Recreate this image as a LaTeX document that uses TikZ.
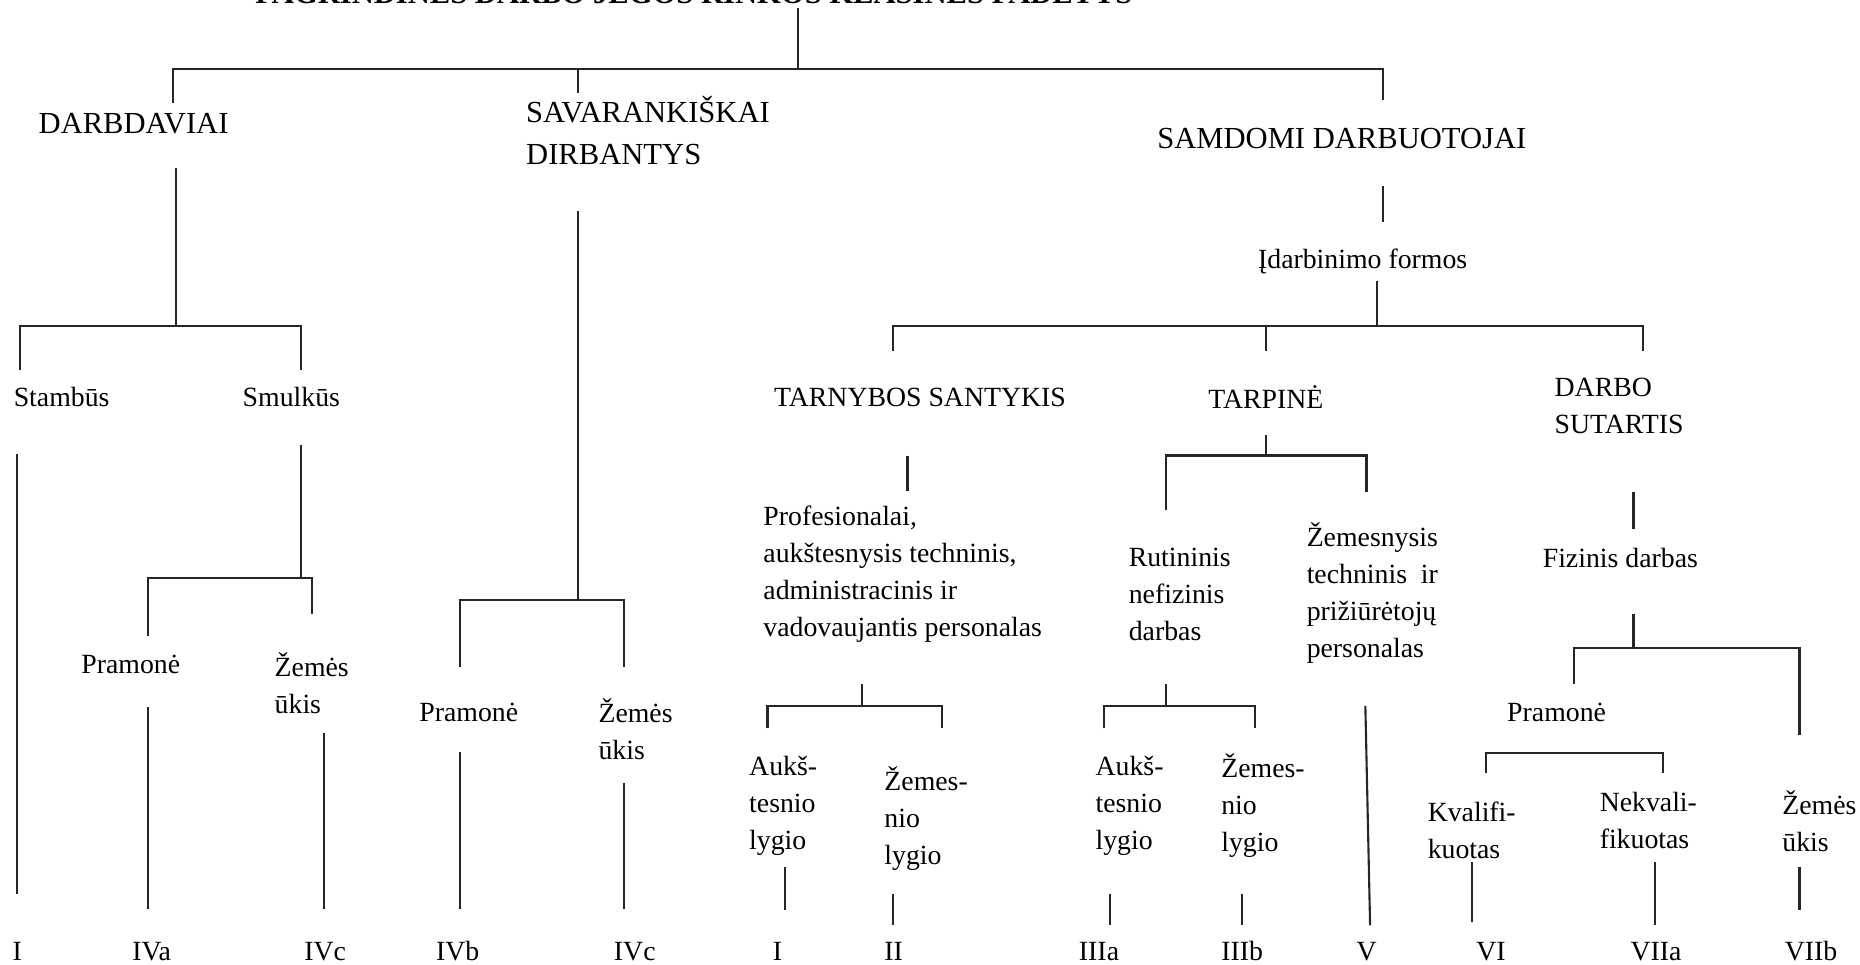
\documentclass[tikz,border=0pt]{standalone}
\usepackage{fontspec}
\setmainfont{Liberation Serif}
\newcommand{\hdfont}{\fontsize{8.7}{11.8}\selectfont}
\newcommand{\lbfont}{\fontsize{7.9}{10.5}\selectfont}
\tikzset{
  lbl/.style={inner sep=0pt, anchor=west, align=left, font=\lbfont},
  hd/.style={lbl, font=\hdfont},
  conn/.style={line width=0.6pt, draw=black!85}
}
\begin{document}
\begin{tikzpicture}[x=0.011862cm, y=-0.011862cm]
    \useasboundingbox (0,0) rectangle (1568,813);

    % title (cut at the top edge)
    \node[hd, anchor=base, font=\hdfont\bfseries] (title) at (585,3) {PAGRINDINĖS DARBO JĖGOS RINKOS KLASINĖS PADĖTYS};

    % main groups
    \node[hd] (darb) at (32,104) {DARBDAVIAI};
    \node[hd] (sav) at (443,110) {SAVARANKIŠKAI\\DIRBANTYS};
    \node[hd] (samd) at (975,117) {SAMDOMI DARBUOTOJAI};
    \node[lbl] (idarb) at (1060,220) {Įdarbinimo formos};

    \node[lbl] (stamb) at (11,335) {Stambūs};
    \node[lbl] (smulk) at (204,335) {Smulkūs};
    \node[lbl] (tarn) at (652,335) {TARNYBOS SANTYKIS};
    \node[lbl] (tarp) at (1018,335) {TARPINĖ};
    \node[lbl] (sut) at (1310,342) {DARBO\\SUTARTIS};

    \node[lbl] (pram1) at (68,560) {Pramonė};
    \node[lbl] (zem1) at (231,576) {Žemės\\ūkis};
    \node[lbl] (pram2) at (353,601) {Pramonė};
    \node[lbl] (zem2) at (504,615) {Žemės\\ūkis};

    \node[lbl] (prof) at (643,484) {Profesionalai,\\aukštesnysis techninis,\\administracinis ir\\vadovaujantis personalas};
    \node[lbl] (auk1) at (631,679) {Aukš-\\tesnio\\lygio};
    \node[lbl] (zemes1) at (745,690) {Žemes-\\nio\\lygio};

    \node[lbl] (rut) at (951,501) {Rutininis\\nefizinis\\darbas};
    \node[lbl] (zemsn) at (1101,500) {Žemesnysis\\techninis~~ir\\prižiūrėtojų\\personalas};
    \node[lbl] (auk2) at (923,679) {Aukš-\\tesnio\\lygio};
    \node[lbl] (zemes2) at (1029,679) {Žemes-\\nio\\lygio};

    \node[lbl] (fiz) at (1300,470) {Fizinis darbas};
    \node[lbl] (pram3) at (1270,601) {Pramonė};
    \node[lbl] (zem3) at (1502,692) {Žemės\\ūkis};
    \node[lbl] (kval) at (1203,700) {Kvalifi-\\kuotas};
    \node[lbl] (nekv) at (1348,692) {Nekvali-\\fikuotas};

    % class numbers
    \foreach \n/\x/\t in {cI/10/I, cIVa/111/IVa, cIVc/256/IVc, cIVb/367/IVb, cIVcc/517/IVc,
        cIb/651/I, cII/745/II, cIIIa/909/IIIa, cIIIb/1029/IIIb, cV/1143/V,
        cVI/1244/VI, cVIIa/1374/VIIa, cVIIb/1504/VIIb}
        \node[lbl] (\n) at (\x,802) {\t};

    % line ends
    \foreach \n/\x/\y in {t0/673/7, t1/673/58, dl/146/87, dm/487/78, dr/1166/84,
        s0/1166/157, s1/1166/187, i0/1161/237, i1/1161/275, f1/753/296, f2/1067/296, f3/1385/296,
        a0/148/142, a1/148/275, g1/17/312, g2/254/312, st0/14/383, st1/14/754,
        m0/254/375, m1/254/487, h1/125/536, h2/263/518,
        p0/125/596, p1/125/766, z0/273/618, z1/273/766,
        v0/487/178, v1/487/506, k1/388/562, k2/526/562,
        q0/388/634, q1/388/766, w0/526/660, w1/526/766,
        n0/765/384, n1/765/414, r0/727/577, r1/727/595, e1/647/614, e2/794/614,
        u0/662/731, u1/662/767, y0/753/754, y1/753/780,
        o0/1067/367, o1/1067/384, c1/983/430, c2/1152/415,
        x0/983/577, x1/983/595, l1/931/614, l2/1058/614,
        j0/936/754, j1/936/780, b0/1047/754, b1/1047/780,
        vv0/1151/595, vv1/1155/780,
        sf0/1377/415, sf1/1377/446, fz0/1377/518, fz1/1377/546, fp/1327/577, fa/1517/620,
        pk/1253/652, pn0/1402/635, pn/1402/652,
        kv0/1241/727, kv1/1241/777, nk0/1395/727, nk1/1395/780, za0/1517/731, za1/1517/767}
        \coordinate (\n) at (\x,\y);

    % top level
    \draw[conn] (t0) -- (t1);
    \draw[conn] (dl) |- (t1) -| (dr);
    \draw[conn] (dm) -- (dm |- t1);

    % samdomi darbuotojai
    \draw[conn] (s0) -- (s1);
    \draw[conn] (i0) -- (i1);
    \draw[conn] (f1) |- (i1) -| (f3);
    \draw[conn] (f2) -- (f2 |- i1);

    % darbdaviai
    \draw[conn] (a0) -- (a1);
    \draw[conn] (g1) |- (a1) -| (g2);
    \draw[conn] (st0) -- (st1);
    \draw[conn] (m0) -- (m1);
    \draw[conn] (h1) |- (m1) -| (h2);
    \draw[conn] (p0) -- (p1);
    \draw[conn] (z0) -- (z1);

    % savarankiskai dirbantys
    \draw[conn] (v0) -- (v1);
    \draw[conn] (k1) |- (v1) -| (k2);
    \draw[conn] (q0) -- (q1);
    \draw[conn] (w0) -- (w1);

    % tarnybos santykis
    \draw[conn] (n0) -- (n1);
    \draw[conn] (r0) -- (r1);
    \draw[conn] (e1) |- (r1) -| (e2);
    \draw[conn] (u0) -- (u1);
    \draw[conn] (y0) -- (y1);

    % tarpine
    \draw[conn] (o0) -- (o1);
    \draw[conn] (c1) |- (o1) -| (c2);
    \draw[conn] (x0) -- (x1);
    \draw[conn] (l1) |- (x1) -| (l2);
    \draw[conn] (j0) -- (j1);
    \draw[conn] (b0) -- (b1);
    \draw[conn] (vv0) -- (vv1);

    % darbo sutartis
    \draw[conn] (sf0) -- (sf1);
    \draw[conn] (fz0) -- (fz1);
    \draw[conn] (fp) |- (fz1) -| (fa);
    \draw[conn] (pk) |- (pn0) -- (pn);
    \draw[conn] (kv0) -- (kv1);
    \draw[conn] (nk0) -- (nk1);
    \draw[conn] (za0) -- (za1);
\end{tikzpicture}
\end{document}
